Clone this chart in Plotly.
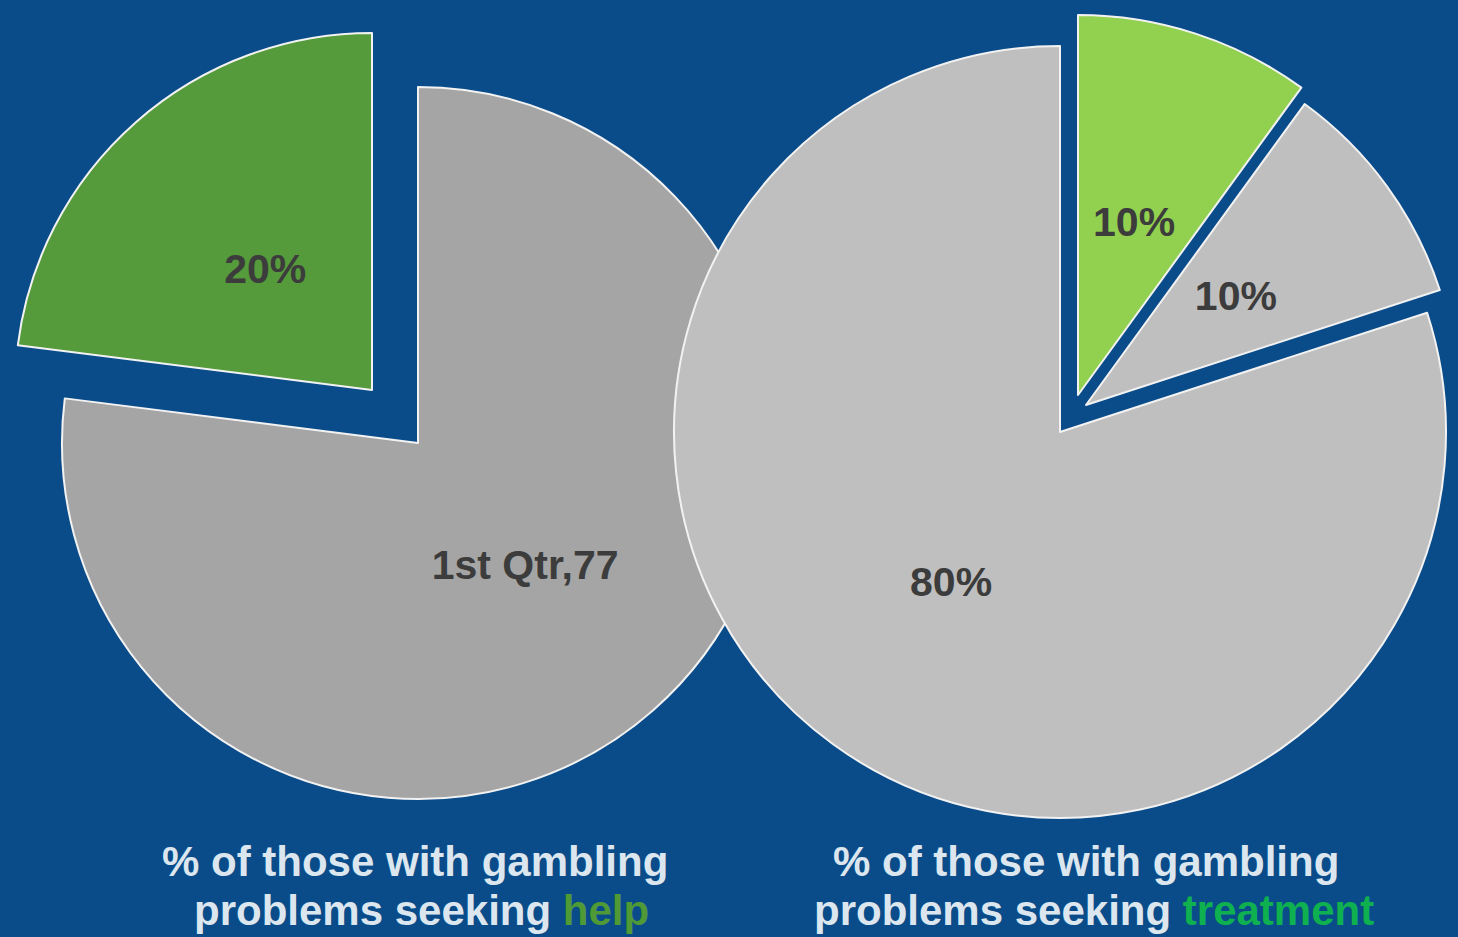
import math
import plotly.graph_objects as go

W, H = 1458, 937

# ---------------- data ----------------
left_labels = ["1st Qtr", "2nd Qtr"]
left_values = [77, 23]
left_text = ["1st Qtr,77", "20%"]

right_labels = ["Seeking treatment", "Seeking other help", "Not seeking"]
right_values = [10, 10, 80]
right_text = ["10%", "10%", "80%"]

title_left = ["% of those with gambling", "problems seeking ", "help"]
title_right = ["% of those with gambling", "problems seeking ", "treatment"]

# ---------------- style / layout ----------------
BG = "#0a4c8a"
left_colors = ["#a5a5a5", "#559a3b"]
right_colors = ["#92d050", "#bfbfbf", "#bfbfbf"]
TITLE_COLOR = "#dce6ee"
HELP_COLOR = "#4f9a36"
TREAT_COLOR = "#0fb050"
LABEL_COLOR = "#3c3c3c"
FONT = "Arial, Liberation Sans, sans-serif"

# apex position (px) and radius (px) of every (exploded) slice
left_geom = [((418, 443), 356), ((372, 390), 357)]
right_geom = [((1078, 395), 386), ((1086, 405), 386), ((1060, 432), 386)]
# distance of the data label from the apex, as a fraction of the radius
left_label_frac = [0.455, 0.452]
right_label_frac = [0.47, 0.48, 0.48]


def dom(cx, cy, r):
    r = min(r, cx, W - cx, cy, H - cy)
    x0, x1 = max(0.0, (cx - r) / W), min(1.0, (cx + r) / W)
    y0, y1 = max(0.0, (H - cy - r) / H), min(1.0, (H - cy + r) / H)
    return dict(x=[x0, x1], y=[y0, y1])


def inscribed_frac(v, total):
    h = math.pi * min(v / total, 0.5)
    s = math.sin(h)
    return min(s / (1 + s), 0.5)


fig = go.Figure()


def add_pie(labels, values, texts, colors, geom, label_frac):
    n = len(values)
    total = sum(values)
    # slices
    for i in range(n):
        (cx, cy), r = geom[i]
        cols = ["rgba(0,0,0,0)"] * n
        cols[i] = colors[i]
        lw = [0] * n
        lw[i] = 2
        fig.add_trace(go.Pie(
            labels=labels, values=values, sort=False, direction="clockwise",
            rotation=0, domain=dom(cx, cy, r),
            marker=dict(colors=cols, line=dict(color="#f2f2f2", width=lw)),
            textinfo="none", hoverinfo="skip", showlegend=False,
        ))
    # data labels
    for i in range(n):
        (cx, cy), r = geom[i]
        rt = label_frac[i] * r / (1 - inscribed_frac(values[i], total))
        tx = [""] * n
        tx[i] = texts[i]
        fig.add_trace(go.Pie(
            labels=labels, values=values, sort=False, direction="clockwise",
            rotation=0, domain=dom(cx, cy, rt),
            marker=dict(colors=["rgba(0,0,0,0)"] * n, line=dict(width=0)),
            text=tx, textinfo="text", textposition="inside",
            insidetextorientation="horizontal",
            textfont=dict(family=FONT, size=41, color=LABEL_COLOR, weight="bold"),
            hoverinfo="skip", showlegend=False,
        ))


add_pie(left_labels, left_values, left_text, left_colors, left_geom, left_label_frac)
add_pie(right_labels, right_values, right_text, right_colors, right_geom, right_label_frac)


def title(parts, color, x1, x2):
    f = dict(family=FONT, size=42, color=TITLE_COLOR, weight="bold")
    return [
        dict(text=parts[0], x=x1 / W, y=1 - 861 / H, xref="paper", yref="paper",
             xanchor="center", yanchor="middle", showarrow=False, font=f),
        dict(text=parts[1] + f"<span style='color:{color}'>{parts[2]}</span>",
             x=x2 / W, y=1 - 910 / H, xref="paper", yref="paper",
             xanchor="center", yanchor="middle", showarrow=False, font=f),
    ]


fig.update_layout(
    width=W, height=H,
    margin=dict(l=0, r=0, t=0, b=0),
    paper_bgcolor=BG, plot_bgcolor=BG,
    annotations=title(title_left, HELP_COLOR, 415, 421)
    + title(title_right, TREAT_COLOR, 1086, 1094),
)

fig.write_html(
    "out.html",
    config={"displayModeBar": False},
    post_script="document.body.style.margin='0px';document.body.style.overflow='hidden';",
)
